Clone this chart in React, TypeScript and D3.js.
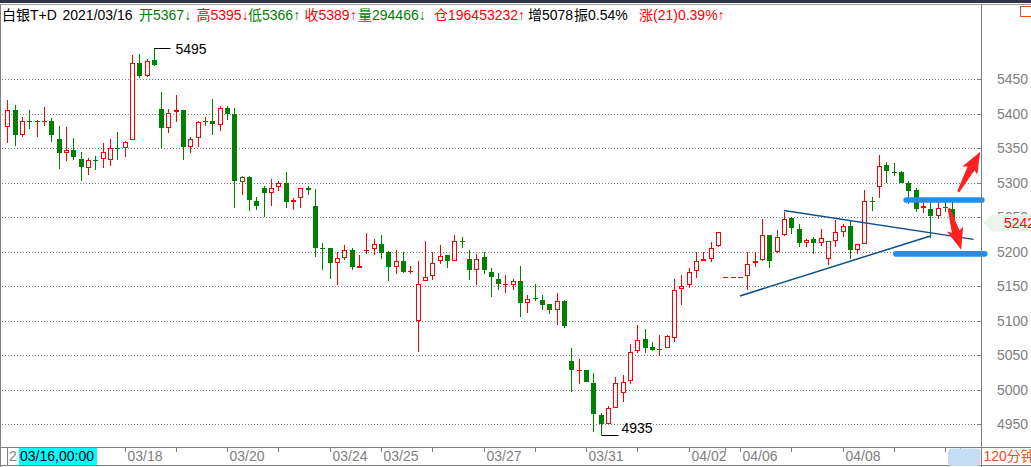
import React from "react";
import * as d3 from "d3";

// ---- Data (120-minute candles, 白银T+D) ----
const opens = [
  5381, 5406, 5369, 5390, 5389.5, 5389.5, 5390, 5364, 5343, 5348,
  5335, 5322, 5332.5, 5335, 5333, 5350.5, 5350, 5362, 5474, 5455,
  5478, 5407, 5379, 5402, 5405, 5352, 5365, 5389.5, 5390, 5384,
  5409, 5400, 5301, 5308, 5274, 5293, 5285, 5294, 5300, 5272,
  5278, 5293, 5267, 5205.5, 5205, 5184, 5191, 5203, 5177, 5202.5,
  5204, 5212, 5199, 5178, 5187, 5171.5, 5100, 5157, 5165, 5187,
  5196, 5187, 5216, 5190, 5173, 5192, 5171, 5161, 5152.5, 5152,
  5158, 5126, 5133, 5130, 5124, 5116, 5128, 5042, 5027.5, 5028,
  5010, 4964, 4950, 4974, 4996, 5013, 5056, 5073, 5062, 5058,
  5061, 5075, 5146, 5152, 5172, 5187, 5190, 5208, 5163, 5163,
  5163, 5165, 5184, 5188, 5225, 5200, 5224, 5249, 5233, 5213,
  5218, 5213, 5190, 5215, 5229, 5238, 5203, 5211, 5273.5, 5294,
  5326, 5315.5, 5316, 5300, 5289, 5263, 5262, 5252, 5264.5, 5262,
];
const highs = [
  5420, 5413, 5395, 5406, 5391, 5410, 5394, 5383, 5381, 5365,
  5345, 5336, 5339, 5357, 5364, 5374, 5361, 5485, 5487, 5480,
  5495, 5432, 5407, 5427, 5406, 5367, 5390, 5396, 5422, 5411,
  5412, 5408, 5310, 5310, 5279, 5296, 5306, 5302, 5315, 5278,
  5293, 5295, 5291, 5213, 5206, 5200, 5210, 5206, 5196, 5227,
  5219, 5225, 5201, 5203, 5200, 5180, 5187, 5216, 5199, 5210,
  5196, 5225, 5222, 5203, 5197, 5199, 5177, 5170, 5166, 5161,
  5180, 5137, 5153, 5137, 5125, 5141, 5130, 5061, 5044, 5029,
  5024, 4967, 4976, 5018, 5021, 5067, 5094, 5088, 5070, 5079,
  5080, 5160, 5167, 5176, 5200, 5200, 5214, 5228, 5163, 5163,
  5163, 5200, 5199, 5248, 5225, 5232, 5257, 5251, 5241, 5219,
  5222, 5233, 5215, 5246, 5241, 5246, 5212, 5289, 5280, 5340,
  5330, 5328, 5317, 5302, 5293, 5272, 5273, 5273, 5272, 5272,
];
const lows = [
  5358, 5354, 5367, 5378, 5367, 5383, 5359, 5320, 5331, 5333,
  5302, 5311, 5318, 5321, 5324, 5333, 5337, 5362, 5452, 5454,
  5469, 5351, 5372, 5388, 5333, 5343, 5352, 5382, 5369, 5375,
  5391, 5263, 5283, 5259, 5260, 5251, 5267, 5288, 5263, 5261,
  5263, 5282, 5193, 5174, 5161, 5152, 5188, 5173, 5177, 5197,
  5195, 5189, 5158, 5168, 5169, 5168, 5055, 5157, 5159, 5182,
  5176, 5187, 5206, 5159, 5152, 5168, 5134, 5144, 5140, 5145,
  5106, 5112, 5129, 5115, 5110, 5094, 5090, 4997, 5008, 5011,
  4939, 4935, 4950, 4974, 4983, 5009, 5053, 5053, 5056, 5049,
  5061, 5070, 5123, 5147, 5162, 5187, 5185, 5207, 5163, 5163,
  5163, 5145, 5178, 5187, 5176, 5198, 5223, 5226, 5207, 5207,
  5197, 5208, 5181, 5207, 5222, 5189, 5197, 5211, 5259, 5278,
  5300, 5310, 5299, 5269, 5258, 5256, 5220, 5247, 5258, 5241,
];
const closes = [
  5405, 5369, 5390, 5390, 5390, 5390, 5369, 5343, 5348, 5337,
  5323, 5333, 5332, 5345, 5351, 5350, 5359, 5473, 5455, 5477,
  5471, 5379, 5401, 5406, 5352, 5364, 5388, 5390, 5385, 5409,
  5400, 5302, 5308, 5275, 5267, 5285, 5292, 5300, 5272, 5275,
  5292, 5289, 5206, 5205, 5184, 5191, 5203, 5178, 5180, 5203,
  5212, 5198, 5178, 5186, 5171, 5172, 5154, 5164, 5184, 5194,
  5187, 5216, 5214, 5173, 5190, 5173, 5163, 5154, 5153, 5158,
  5126, 5132, 5131, 5123, 5116, 5128, 5092, 5028, 5028, 5011,
  4965, 4950, 4973, 5010, 5012, 5055, 5072, 5061, 5057, 5059.5,
  5078, 5145, 5151, 5171, 5186, 5189, 5206, 5228, 5163, 5163,
  5163, 5183, 5187, 5225, 5186, 5222, 5247, 5234, 5213, 5217,
  5213, 5220, 5215, 5228, 5238, 5202, 5212, 5274, 5273, 5324,
  5317, 5315, 5300, 5288, 5262, 5267, 5252, 5264, 5264, 5242,
];

const priceTicks = [5450, 5400, 5350, 5300, 5250, 5200, 5150, 5100, 5050, 5000, 4950];
const dateTickIdx = [16, 30, 44, 51, 65, 79, 93, 100, 114];
const dateTickLabels = ["03/18", "03/20", "03/24", "03/25", "03/27", "03/31", "04/02", "04/06", "04/08"];
const minorTickIdx = [23, 37, 58, 72, 86, 98, 107, 121, 128, 130];

const headerTexts = ["白银T+D", "2021/03/16", "开5367↓", "高5395↓", "低5366↑", "收5389↑", "量294466↓", "仓196453232↑", "增5078", "振0.54%", "涨(21)0.39%↑"];
const headerColors = ["#000", "#000", "#008000", "#ff0000", "#008000", "#ff0000", "#008000", "#ff0000", "#000", "#000", "#ff0000"];

const lastPrice = 5242;
const highMark = { i: 20, p: 5495 };
const lowMark = { i: 81, p: 4935 };
const triUpper = [{ i: 106, p: 5260 }, { i: 131.9, p: 5218 }];
const triLower = [{ i: 100, p: 5136 }, { i: 126, p: 5223 }];
const resistance = { i0: 122.3, i1: 133.4, p: 5275 };
const support = { i0: 120.9, i1: 133.8, p: 5197 };
const arrowUp = { from: { i: 129.8, p: 5287 }, to: { i: 132.8, p: 5345 } };
const arrowDown = { from: { i: 128.5, p: 5263 }, to: { i: 130.2, p: 5203 } };

// ---- Layout ----
const W = 1031;
const H = 467;
const plotRight = 981;
const axisTop = 447;
const RED = "#ff0000";
const GREEN = "#008000";
const GRAY = "#808080";
const FONT = "Arial, 'Liberation Sans', 'Noto Sans CJK SC', sans-serif";
const headerX = [2, 62.5, 139, 196.5, 248, 304.5, 358, 434, 528, 574, 639];

const x = d3.scaleLinear().domain([0, closes.length - 1]).range([7.3, 952.4]);
const y = d3.scaleLinear().domain([4950, 5450]).range([424.3, 79.3]);

function arrowPath(fi: number, fp: number, ti: number, tp: number) {
  const tx = x(fi), ty = y(fp), px = x(ti), py = y(tp);
  const dx = px - tx, dy = py - ty;
  const len = Math.hypot(dx, dy);
  const ux = dx / len, uy = dy / len;
  const nx = -uy, ny = ux;
  const hl = 19, hw = 8.5, sw0 = 1.2, sw1 = 4;
  const bx = px - ux * hl, by = py - uy * hl;
  const bbx = bx - ux * 2.5, bby = by - uy * 2.5;
  const pts = [
    [tx + nx * sw0, ty + ny * sw0],
    [bx + nx * sw1, by + ny * sw1],
    [bbx + nx * hw, bby + ny * hw],
    [px, py],
    [bbx - nx * hw, bby - ny * hw],
    [bx - nx * sw1, by - ny * sw1],
    [tx - nx * sw0, ty - ny * sw0],
  ];
  return "M" + pts.map((p) => p[0].toFixed(1) + "," + p[1].toFixed(1)).join("L") + "Z";
}

export default function App() {
  const candles = closes.map((c, i) => {
    const o = opens[i];
    const up = c > o;
    const px = Math.round(x(i));
    const wx = px + 0.5;
    const top = Math.round(y(Math.max(o, c)));
    const bot = Math.round(y(Math.min(o, c)));
    const hy = Math.round(y(highs[i]));
    const ly = Math.round(y(lows[i]));
    const color = up ? RED : GREEN;
    const flat = bot - top < 2;
    return (
      <g key={i}>
        {up ? (
          <>
            {hy < top && <line x1={wx} x2={wx} y1={hy} y2={top} stroke={color} />}
            {ly > bot && <line x1={wx} x2={wx} y1={bot} y2={ly} stroke={color} />}
            {flat ? (
              <line x1={px - 2} x2={px + 3} y1={top + 0.5} y2={top + 0.5} stroke={color} />
            ) : (
              <rect x={px - 1.5} y={top + 0.5} width={4} height={bot - top - 1} fill="#fff" stroke={color} />
            )}
          </>
        ) : (
          <>
            {ly > hy && <line x1={wx} x2={wx} y1={hy} y2={ly} stroke={color} />}
            {flat ? (
              <line x1={px - 2} x2={px + 3} y1={top + 0.5} y2={top + 0.5} stroke={color} />
            ) : (
              <rect x={px - 2} y={top} width={5} height={bot - top} fill={color} />
            )}
          </>
        )}
      </g>
    );
  });

  const lastY = y(lastPrice);

  return (
    <div>
      <style>{"body{margin:0;background:#fff}"}</style>
      <svg width={W} height={H} style={{ display: "block", fontFamily: FONT }}>
        <rect x={0} y={0} width={W} height={H} fill="#fff" />
        {/* top bar */}
        <rect x={0} y={0} width={W} height={3} fill="#2f3542" />
        <line x1={0} x2={W} y1={4.5} y2={4.5} stroke="#a0a0a0" />
        {/* header */}
        <text y={20} fontSize={14}>
          {headerTexts.map((t, i) => (
            <tspan key={i} x={headerX[i]} fill={headerColors[i]}>
              {t}
            </tspan>
          ))}
        </text>
        <rect x={1020.5} y={6.5} width={11} height={10} fill="none" stroke="#e8501c" />

        {/* grid */}
        {priceTicks.map((v) => {
          const gy = Math.round(y(v)) + 0.5;
          return (
            <g key={v}>
              <line x1={2} x2={plotRight - 3} y1={gy} y2={gy} stroke={GRAY} strokeDasharray="1,2" />
              <line x1={plotRight - 4} x2={plotRight} y1={gy} y2={gy} stroke={GRAY} />
              <text x={997} y={gy + 4.5} fontSize={14} fill={GRAY}>
                {v}
              </text>
            </g>
          );
        })}

        {/* candles */}
        {candles}

        {/* high / low marks */}
        {(() => {
          const hx = Math.round(x(highMark.i)) + 0.5;
          const hy = Math.round(y(highMark.p)) + 0.5;
          const lx = Math.round(x(lowMark.i)) + 0.5;
          const ly = Math.round(y(lowMark.p)) + 0.5;
          return (
            <g>
              <line x1={hx} x2={hx + 16} y1={hy} y2={hy} stroke="#000" />
              <text x={hx + 21} y={hy + 5} fontSize={14} fill="#000">
                {highMark.p}
              </text>
              <line x1={lx} x2={lx + 17} y1={ly} y2={ly} stroke="#000" />
              <text x={lx + 20} y={ly - 3} fontSize={14} fill="#000">
                {lowMark.p}
              </text>
            </g>
          );
        })()}

        {/* triangle lines */}
        <line x1={x(triUpper[0].i)} y1={y(triUpper[0].p)} x2={x(triUpper[1].i)} y2={y(triUpper[1].p)} stroke="#104e8b" strokeWidth={1.5} />
        <line x1={x(triLower[0].i)} y1={y(triLower[0].p)} x2={x(triLower[1].i)} y2={y(triLower[1].p)} stroke="#104e8b" strokeWidth={1.5} />

        {/* support / resistance bars */}
        {[resistance, support].map((b, k) => (
          <rect key={k} x={x(b.i0)} y={y(b.p) - 2.8} width={x(b.i1) - x(b.i0)} height={5.6} rx={2.8} fill="#1e90f5" />
        ))}

        {/* red arrows */}
        <path d={arrowPath(arrowUp.from.i, arrowUp.from.p, arrowUp.to.i, arrowUp.to.p)} fill="#ff2020" />
        <path d={arrowPath(arrowDown.from.i, arrowDown.from.p, arrowDown.to.i, arrowDown.to.p)} fill="#ff2020" />

        {/* borders */}
        <line x1={plotRight + 0.5} x2={plotRight + 0.5} y1={4} y2={H} stroke={GRAY} />
        <line x1={0.5} x2={0.5} y1={4} y2={H} stroke={GRAY} />

        {/* last price tag */}
        <path
          d={`M${plotRight + 2},${lastY} L${plotRight + 11},${lastY - 8.5} L${W},${lastY - 8.5} L${W},${lastY + 8.5} L${plotRight + 11},${lastY + 8.5} Z`}
          fill="#eaf4ea"
        />
        <text x={1004} y={lastY + 5} fontSize={14} fill={RED}>
          {lastPrice}
        </text>

        {/* bottom axis */}
        <rect x={0} y={axisTop} width={W} height={H - axisTop} fill="#fff" />
        <line x1={0} x2={W} y1={axisTop + 0.5} y2={axisTop + 0.5} stroke={GRAY} />
        <line x1={0} x2={W} y1={465.5} y2={465.5} stroke={GRAY} />
        <line x1={0.5} x2={0.5} y1={axisTop} y2={H} stroke={GRAY} />
        <line x1={7.5} x2={7.5} y1={axisTop} y2={466} stroke={GRAY} />
        <line x1={plotRight + 0.5} x2={plotRight + 0.5} y1={axisTop} y2={H} stroke={GRAY} />
        <text x={9} y={461} fontSize={14} fill={GRAY}>2</text>
        <rect x={19} y={448} width={78} height={17} fill="#00ffff" />
        <text x={20} y={461} fontSize={14} fill="#000">03/16,00:00</text>
        {dateTickIdx.map((ti, k) => {
          const tx = Math.round(x(ti)) + 0.5;
          return (
            <g key={"d" + k}>
              <line x1={tx} x2={tx} y1={axisTop} y2={axisTop + 5} stroke={GRAY} />
              <text x={tx + 2} y={461} fontSize={14} fill={GRAY}>
                {dateTickLabels[k]}
              </text>
            </g>
          );
        })}
        {minorTickIdx.map((ti, k) => {
          const tx = Math.round(x(ti)) + 0.5;
          return <line key={"m" + k} x1={tx} x2={tx} y1={axisTop} y2={axisTop + 5} stroke={GRAY} />;
        })}
        <rect x={948} y={448.5} width={32.5} height={17.5} rx={4} fill="#c5dcf5" />
        <text x={983.5} y={461} fontSize={14} fill="#e8501c">120分钟</text>
      </svg>
    </div>
  );
}
